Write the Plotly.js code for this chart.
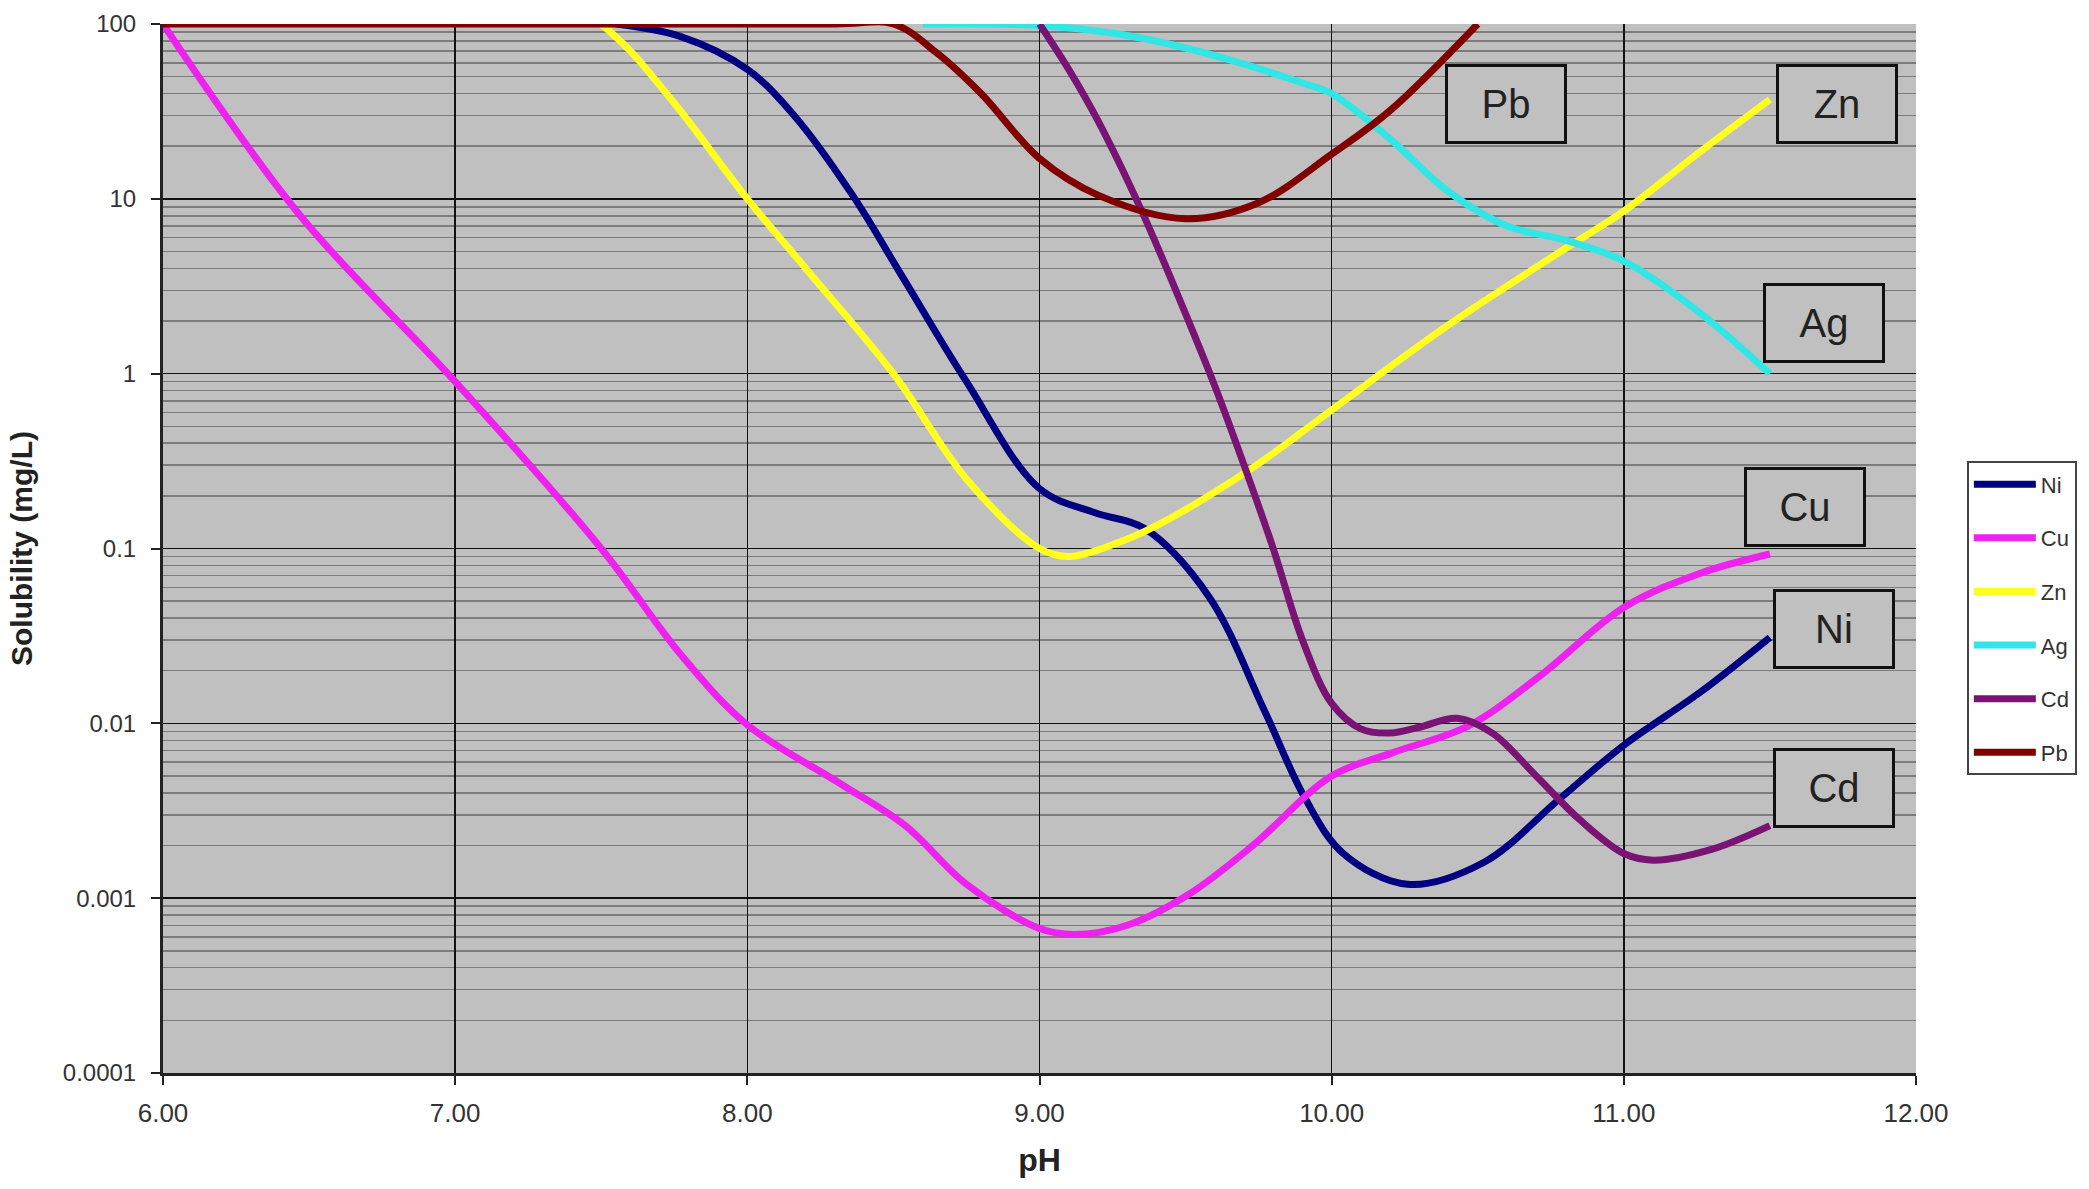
<!DOCTYPE html>
<html>
<head>
<meta charset="utf-8">
<script src="https://cdn.plot.ly/plotly-3.0.1.min.js"></script>
<style>html,body{margin:0;padding:0;background:#fff;}#chart{width:2089px;height:1189px;}</style>
</head>
<body>
<div id="chart"></div>
<script>
// ---- data ----
const niPH  = [7.55, 7.77, 8.0, 8.16, 8.36, 8.53, 8.75, 9.0, 9.19, 9.36, 9.58, 9.77, 9.91, 10.04, 10.26, 10.52, 10.78, 11.0, 11.26, 11.5];
const niSol = [100, 85, 55, 30, 10.5, 3.6, 0.9, 0.22, 0.16, 0.13, 0.053, 0.0118, 0.0037, 0.0018, 0.0012, 0.0016, 0.0037, 0.0075, 0.015, 0.031];

const cuPH  = [6.0, 6.47, 7.0, 7.5, 7.77, 8.0, 8.32, 8.54, 8.75, 9.0, 9.12, 9.3, 9.51, 9.73, 10.0, 10.21, 10.47, 10.71, 11.0, 11.26, 11.5];
const cuSol = [100, 8, 0.9, 0.1, 0.025, 0.0098, 0.0045, 0.0026, 0.0012, 0.00067, 0.00062, 0.0007, 0.00105, 0.002, 0.005, 0.0068, 0.0097, 0.0185, 0.046, 0.072, 0.093];

const znPH  = [7.5, 7.6, 7.77, 8.0, 8.2, 8.5, 8.75, 9.0, 9.1, 9.25, 9.4, 9.73, 10.0, 10.4, 10.8, 11.0, 11.25, 11.5];
const znSol = [100, 70, 32, 10, 4, 1.0, 0.25, 0.1, 0.09, 0.105, 0.135, 0.29, 0.62, 1.9, 5.2, 8.5, 18, 37];

const agPH  = [8.6, 9.0, 9.3, 9.6, 9.9, 10.0, 10.2, 10.4, 10.6, 10.8, 11.0, 11.25, 11.5];
const agSol = [100, 98, 86, 66, 46, 40, 22, 11, 7, 5.8, 4.4, 2.3, 1.0];

const cdPH  = [9.0, 9.1, 9.2, 9.35, 9.5, 9.6, 9.7, 9.8, 9.9, 10.0, 10.1, 10.2, 10.3, 10.43, 10.55, 10.7, 10.85, 11.0, 11.1, 11.3, 11.5];
const cdSol = [100, 55, 28, 8.5, 2.2, 0.85, 0.3, 0.1, 0.03, 0.013, 0.0093, 0.0088, 0.0095, 0.0107, 0.0088, 0.005, 0.0028, 0.0018, 0.00165, 0.0019, 0.0026];

const pbPH  = [6.0, 8.3, 8.5, 8.65, 8.8, 9.0, 9.2, 9.5, 9.75, 10.0, 10.2, 10.5];
const pbSol = [100, 100, 100, 68, 40, 17, 10.5, 7.7, 9.5, 18, 32, 100];

const seriesNames  = ["Ni", "Cu", "Zn", "Ag", "Cd", "Pb"];
const seriesColors = ["#000080", "#ee22ee", "#ffff22", "#33e6e6", "#7a1474", "#800000"];
const seriesX = [niPH, cuPH, znPH, agPH, cdPH, pbPH];
const seriesY = [niSol, cuSol, znSol, agSol, cdSol, pbSol];

// label boxes (element name, pH centre, log10 solubility centre)
const labelNames = ["Pb", "Zn", "Ag", "Cu", "Ni", "Cd"];
const labelPH    = [10.595, 11.73, 11.685, 11.62, 11.72, 11.72];
const labelLogY  = [1.545, 1.545, 0.29, -0.765, -1.46, -2.37];

const xTickVals = [6, 7, 8, 9, 10, 11, 12];

const traces = seriesNames.map((n, i) => ({
  type: "scatter", mode: "lines", name: n,
  x: seriesX[i], y: seriesY[i],
  legendgroup: n,
  line: {color: seriesColors[i], width: 7, shape: "spline", smoothing: 1.0},
  hoverinfo: "x+y+name"
}));

const annotations = labelNames.map((t, i) => ({
  x: labelPH[i], y: labelLogY[i], xref: "x", yref: "y",
  text: t, showarrow: false,
  font: {family: "Liberation Sans Narrow, Arial Narrow, sans-serif", size: 40, color: "#222"},
  bgcolor: "#c0c0c0", bordercolor: "#111", borderwidth: 3, borderpad: 0,
  width: 116, height: 74, xanchor: "center", yanchor: "middle"
}));

const layout = {
  width: 2089, height: 1189,
  margin: {l: 163, r: 170, t: 24, b: 116},
  paper_bgcolor: "#ffffff",
  plot_bgcolor: "#c0c0c0",
  showlegend: true,
  legend: {
    x: 1.029, y: 0.583, xanchor: "left", yanchor: "top",
    bgcolor: "#ffffff", bordercolor: "#444", borderwidth: 2,
    font: {family: "Liberation Sans, Arial, sans-serif", size: 22, color: "#333"},
    tracegroupgap: 22, itemwidth: 62
  },
  xaxis: {
    range: [6, 12],
    tickmode: "array", tickvals: xTickVals,
    ticktext: xTickVals.map(v => v.toFixed(2)),
    ticks: "outside", ticklen: 9, tickwidth: 2, tickcolor: "#222",
    ticklabelstandoff: 6,
    showgrid: true, gridcolor: "#111", gridwidth: 1.5,
    showline: true, linecolor: "#222", linewidth: 3,
    zeroline: false,
    tickfont: {family: "Liberation Sans Narrow, Arial Narrow, sans-serif", size: 26, color: "#333"},
    title: {text: "<b>pH</b>", font: {family: "Liberation Sans, Arial, sans-serif", size: 32, color: "#222"}, standoff: 22}
  },
  yaxis: {
    type: "log",
    range: [-4, 2],
    tickmode: "linear", tick0: 0, dtick: 1,
    exponentformat: "none",
    ticks: "outside", ticklen: 9, tickwidth: 2, tickcolor: "#222",
    ticklabelstandoff: 10,
    showgrid: true, gridcolor: "#111", gridwidth: 1.5,
    minor: {dtick: "D1", showgrid: true, gridcolor: "#7c7c7c", gridwidth: 1.5, ticks: ""},
    showline: true, linecolor: "#222", linewidth: 3,
    zeroline: false,
    tickfont: {family: "Liberation Sans, Arial, sans-serif", size: 24, color: "#333"},
    title: {text: "<b>Solubility (mg/L)</b>", font: {family: "Liberation Sans Narrow, Arial Narrow, sans-serif", size: 30, color: "#222"}, standoff: 22}
  },
  annotations: annotations
};

Plotly.newPlot("chart", traces, layout, {displayModeBar: false, staticPlot: true});
</script>
</body>
</html>
